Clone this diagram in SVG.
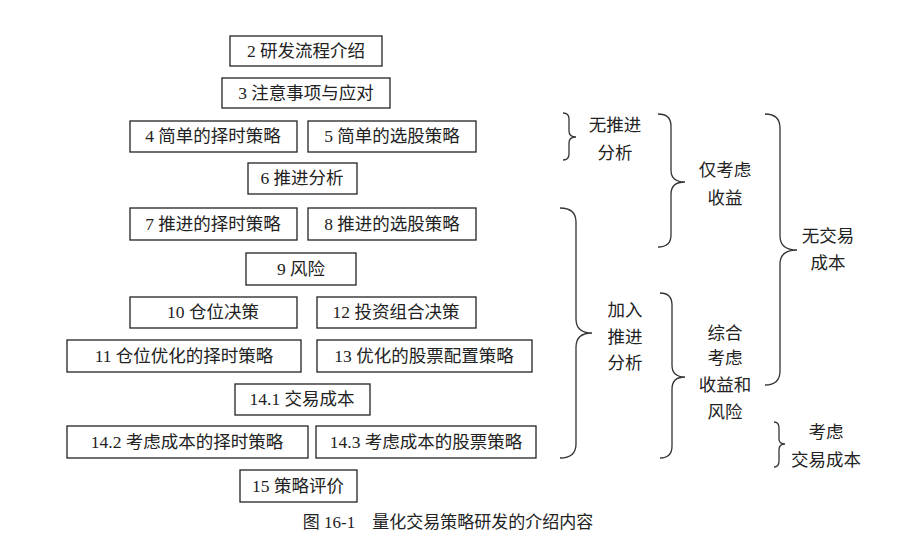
<svg xmlns="http://www.w3.org/2000/svg" width="897" height="554" viewBox="0 0 897 554">
<style>
.b{fill:#fff;stroke:#222;stroke-width:1.3}
.t{font-family:"Liberation Serif","Noto Sans CJK SC",serif;font-size:17.5px;fill:#222;text-anchor:middle}
.br{fill:none;stroke:#333;stroke-width:1.3}
</style>
<rect width="897" height="554" fill="#fff"/>
<g id="n2"><rect class="b" x="230" y="36" width="152" height="30"/><text class="t" x="306" y="57">2 研发流程介绍</text></g>
<g id="n3"><rect class="b" x="222" y="78" width="168" height="30"/><text class="t" x="306" y="99">3 注意事项与应对</text></g>
<g id="n4"><rect class="b" x="130" y="121" width="167" height="31"/><text class="t" x="213" y="142">4 简单的择时策略</text></g>
<g id="n5"><rect class="b" x="308" y="121" width="168" height="31"/><text class="t" x="392" y="142">5 简单的选股策略</text></g>
<g id="n6"><rect class="b" x="248" y="163" width="109" height="31"/><text class="t" x="302" y="184">6 推进分析</text></g>
<g id="n7"><rect class="b" x="130" y="208" width="167" height="32"/><text class="t" x="213" y="230">7 推进的择时策略</text></g>
<g id="n8"><rect class="b" x="308" y="208" width="168" height="32"/><text class="t" x="392" y="230">8 推进的选股策略</text></g>
<g id="n9"><rect class="b" x="246" y="253" width="110" height="32"/><text class="t" x="301" y="275">9 风险</text></g>
<g id="n10"><rect class="b" x="130" y="297" width="167" height="31"/><text class="t" x="213" y="318">10 仓位决策</text></g>
<g id="n12"><rect class="b" x="317" y="297" width="159" height="31"/><text class="t" x="396" y="318">12 投资组合决策</text></g>
<g id="n11"><rect class="b" x="67" y="340" width="234" height="32"/><text class="t" x="184" y="362">11 仓位优化的择时策略</text></g>
<g id="n13"><rect class="b" x="317" y="340" width="215" height="32"/><text class="t" x="424" y="362">13 优化的股票配置策略</text></g>
<g id="n141"><rect class="b" x="235" y="384" width="135" height="31"/><text class="t" x="302" y="405">14.1 交易成本</text></g>
<g id="n142"><rect class="b" x="67" y="426" width="241" height="32"/><text class="t" x="187" y="448">14.2 考虑成本的择时策略</text></g>
<g id="n143"><rect class="b" x="316" y="426" width="220" height="32"/><text class="t" x="426" y="448">14.3 考虑成本的股票策略</text></g>
<g id="n15"><rect class="b" x="240" y="470" width="117" height="32"/><text class="t" x="298" y="492">15 策略评价</text></g>
<g id="connectors">
<path class="br" d="M563,113 Q569,113 569,119 L569,131 Q569,137 576,137 Q569,137 569,143 L569,154 Q569,160 563,160"/>
<path class="br" d="M658,114 Q671,114 671,126 L671,170 Q671,182 685,182 Q671,182 671,194 L671,235 Q671,247 658,247"/>
<path class="br" d="M765,114 Q780,114 780,128 L780,236 Q780,250 797,250 Q780,250 780,264 L780,371 Q780,385 765,385"/>
<path class="br" d="M560,208 Q576,208 576,222 L576,319 Q576,333 592,333 Q576,333 576,347 L576,444 Q576,458 560,458"/>
<path class="br" d="M660,293 Q672,293 672,305 L672,365 Q672,377 685,377 Q672,377 672,389 L672,446 Q672,458 660,458"/>
<path class="br" d="M774,422 Q779,422 779,428 L779,439 Q779,444 785,444 Q779,444 779,450 L779,461 Q779,467 774,467"/>
</g>
<g id="labels">
<text class="t" x="615" y="131">无推进</text><text class="t" x="615" y="159">分析</text>
<text class="t" x="725" y="176">仅考虑</text><text class="t" x="725" y="204">收益</text>
<text class="t" x="828" y="242">无交易</text><text class="t" x="828" y="269">成本</text>
<text class="t" x="625" y="316">加入</text><text class="t" x="625" y="343">推进</text><text class="t" x="625" y="369">分析</text>
<text class="t" x="725" y="339">综合</text><text class="t" x="725" y="364">考虑</text><text class="t" x="725" y="391">收益和</text><text class="t" x="725" y="418">风险</text>
<text class="t" x="826" y="438">考虑</text><text class="t" x="826" y="466">交易成本</text>
<text class="t" x="448" y="528" style="font-size:17px" xml:space="preserve">图 16-1    量化交易策略研发的介绍内容</text>
</g>
</svg>
